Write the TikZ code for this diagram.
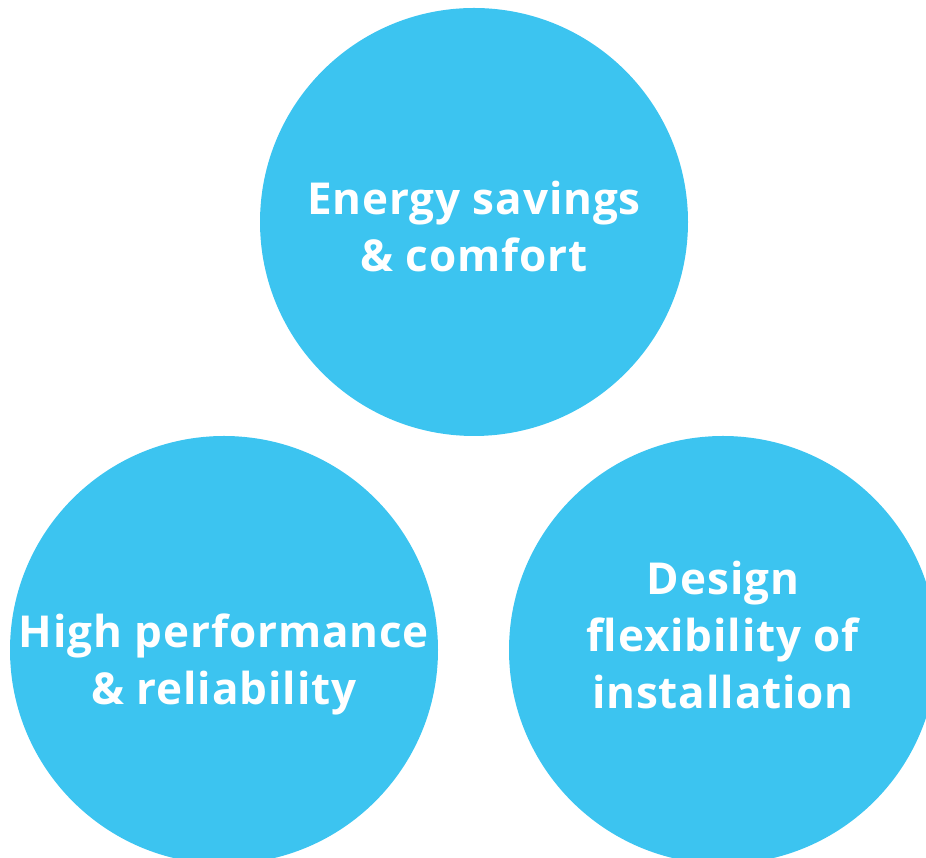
\documentclass[tikz,border=0pt]{standalone}
\usepackage{fontspec}
\setmainfont{Open Sans}
\newfontfamily\bubfont[LetterSpace=2]{Open Sans}
\definecolor{bub}{HTML}{3CC4F0}
\tikzset{
  bubble/.style={circle, fill=bub, draw=none, minimum size=428pt, inner sep=0pt},
  lbl/.style={text=white, align=center, font=\bubfont\bfseries\fontsize{44}{57}\selectfont}
}
\begin{document}
\begin{tikzpicture}[x=1pt,y=1pt]
\useasboundingbox (0,0) rectangle (926,858);
\node[bubble] (top) at (474,636) {};
\node[bubble] (left) at (224,208) {};
\node[bubble] (right) at (723,208) {};
\node[lbl] (ttop) at ([yshift=-5pt]top.center) {Energy savings\\\& comfort};
\node[lbl] (tleft) at ([yshift=-14pt]left.center) {High performance\\\& reliability};
\node[lbl] (tright) at ([yshift=15pt]right.center) {Design\\flexibility of\\installation};
\end{tikzpicture}
\end{document}
